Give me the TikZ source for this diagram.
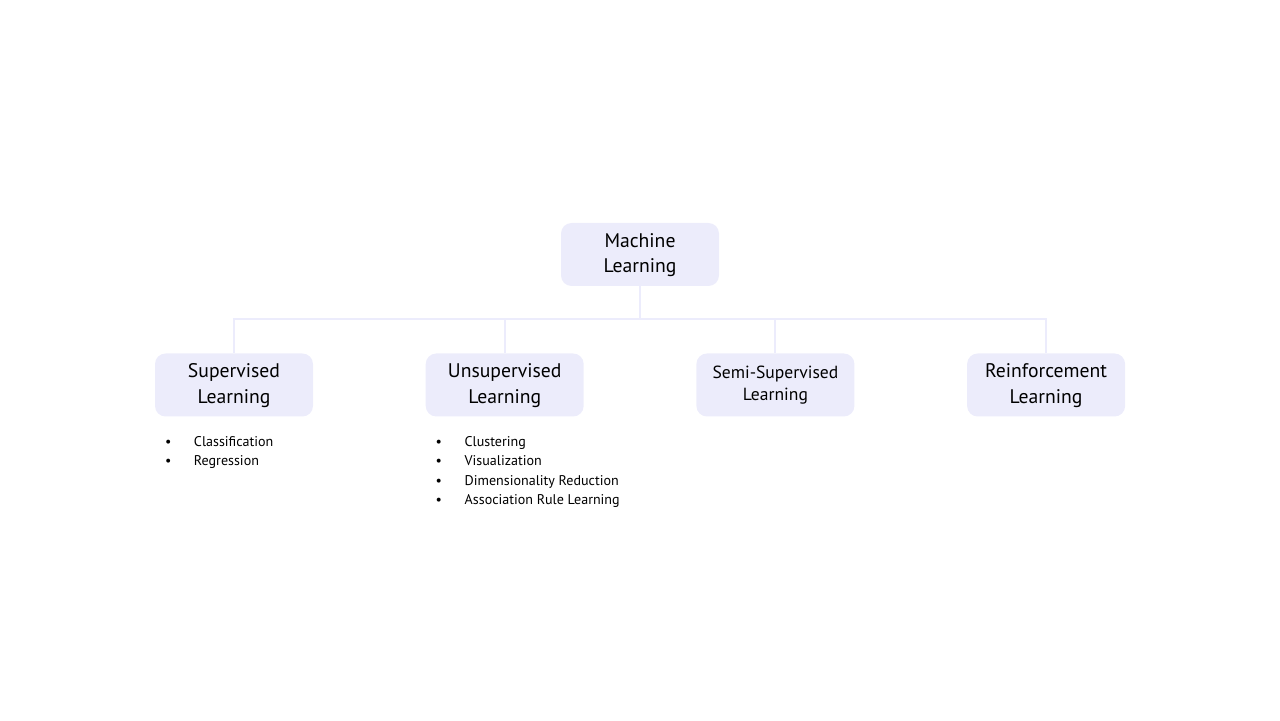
\documentclass[tikz,border=0pt]{standalone}
\usepackage{fontspec}
\setmainfont{PT Sans}
\usepackage{xcolor}
\usetikzlibrary{positioning,calc}
\definecolor{boxfill}{HTML}{ECECFB}
\definecolor{linkline}{HTML}{ECECFC}

\begin{document}
\begin{tikzpicture}[
  topic/.style={fill=boxfill,rounded corners=6pt,align=center,minimum width=3.16cm,minimum height=1.26cm,
    inner sep=0pt,text depth=0.06cm,font=\fontsize{11.2}{14.6}\selectfont},
  link/.style={draw=linkline,line width=1.1pt},
  items/.style={align=left,inner sep=0pt,font=\fontsize{8}{10.9}\selectfont}]
\useasboundingbox (0,0) rectangle (25.6,14.4);
\node[topic] (ml) at (12.8,9.31) {Machine\\Learning};
\node[topic] (sup) at (4.68,6.70) {Supervised\\Learning};
\node[topic,right=2.24cm of sup] (unsup) {Unsupervised\\Learning};
\node[topic,right=2.24cm of unsup,font=\fontsize{10}{12.6}\selectfont] (semi) {Semi-Supervised\\Learning};
\node[topic,right=2.24cm of semi] (rl) {Reinforcement\\Learning};
\coordinate (bus) at ($(ml.south)+(0,-0.66)$);
\draw[link] (ml.south) -- (bus);
\draw[link] (bus) -| (sup.north); \draw[link] (bus) -| (unsup.north);
\draw[link] (bus) -| (semi.north); \draw[link] (bus) -| (rl.north);
% lists under the boxes
\node[items,below right=0.39cm and 0.2cm of sup.south west] (suplist)
  {\makebox[0.58cm][l]{\textbullet}Classification\\
   \makebox[0.58cm][l]{\textbullet}Regression};
\node[items,below right=0.39cm and 0.2cm of unsup.south west] (unsuplist)
  {\makebox[0.58cm][l]{\textbullet}Clustering\\
   \makebox[0.58cm][l]{\textbullet}Visualization\\
   \makebox[0.58cm][l]{\textbullet}Dimensionality Reduction\\
   \makebox[0.58cm][l]{\textbullet}Association Rule Learning};
\end{tikzpicture}
\end{document}
